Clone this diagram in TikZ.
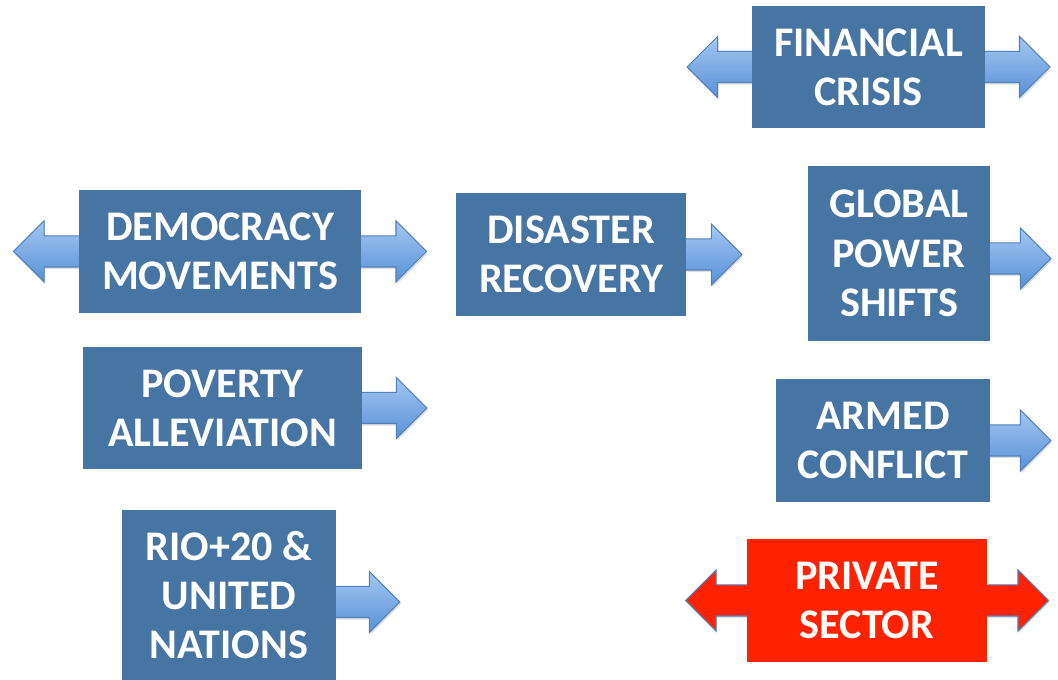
\documentclass[tikz,border=0pt]{standalone}
\usepackage{fontspec}
\setmainfont{Carlito}
\usepackage{xcolor}
\usepackage{tikz}
\usetikzlibrary{positioning}
\usetikzlibrary{shapes.arrows}
\usetikzlibrary{backgrounds}
\usetikzlibrary{shadows}
\definecolor{boxblue}{RGB}{70,116,163}
\definecolor{boxred}{RGB}{255,34,0}
\definecolor{arrowtop}{RGB}{164,198,243}
\definecolor{arrowbottom}{RGB}{88,145,214}
\definecolor{arrowline}{RGB}{79,129,189}
\tikzset{
  mybox/.style={
    fill=boxblue,
    shape=rectangle,
    align=center,
    text=white,
    inner sep=0pt,
    font=\fontsize{24}{28}\selectfont\bfseries
  },
  myredbox/.style={
    mybox,
    fill=boxred
  },
  myarrow/.style={
    draw=arrowline,
    line width=0.6pt,
    single arrow,
    single arrow head extend=0.3cm,
    single arrow tip angle=90,
    inner xsep=0pt,
    inner ysep=0.3cm,
    top color=arrowtop,
    bottom color=arrowbottom,
    drop shadow={opacity=0.25, shadow xshift=0.6pt, shadow yshift=-1.2pt}
  },
  mydoublearrow/.style={
    draw=arrowline,
    line width=0.6pt,
    double arrow,
    double arrow head extend=0.3cm,
    double arrow tip angle=90,
    inner xsep=0pt,
    inner ysep=0.3cm,
    top color=arrowtop,
    bottom color=arrowbottom,
    drop shadow={opacity=0.25, shadow xshift=0.6pt, shadow yshift=-1.2pt}
  }
}

\begin{document}
\begin{tikzpicture}
    \useasboundingbox (0, 0) rectangle (21.16, 13.6);

    \node [mybox, minimum width=4.66cm, minimum height=2.44cm] (FC) at (17.37, 12.26) {FINANCIAL\\CRISIS};
    \node [mybox, minimum width=5.64cm, minimum height=2.46cm] (DM) at (4.40, 8.57) {DEMOCRACY\\MOVEMENTS};
    \node [mybox, minimum width=4.60cm, minimum height=2.46cm] (DR) at (11.42, 8.51) {DISASTER\\RECOVERY};
    \node [mybox, minimum width=3.64cm, minimum height=3.50cm] (GP) at (17.98, 8.53) {GLOBAL\\POWER\\SHIFTS};
    \node [mybox, minimum width=5.58cm, minimum height=2.44cm] (PA) at (4.45, 5.44) {POVERTY\\ALLEVIATION};
    \node [mybox, minimum width=4.28cm, minimum height=2.46cm] (AC) at (17.66, 4.79) {ARMED\\CONFLICT};
    \node [mybox, minimum width=4.28cm, minimum height=3.40cm] (RIO) at (4.58, 1.70) {RIO+20 \&\\UNITED\\NATIONS};
    \node [myredbox, minimum width=4.80cm, minimum height=2.46cm] (PS) at (17.34, 1.59) {PRIVATE\\SECTOR};

    \begin{scope}[on background layer]
    \node [mydoublearrow, minimum height=7.26cm] (FCarrows) at (FC) {};
    \node [mydoublearrow, minimum height=8.26cm] (DMarrows) at (DM) {};
    \node [mydoublearrow, minimum height=7.26cm, top color=boxred, bottom color=boxred] (PSarrows) at (PS) {};

    \node [myarrow, minimum height=1.16cm, right=-0.06cm of DR] (DRarrow) {};
    \node [myarrow, minimum height=1.26cm, right=-0.06cm of GP, yshift=-0.1cm] (GParrow) {};
    \node [myarrow, minimum height=1.34cm, right=-0.06cm of PA] (PAarrow) {};
    \node [myarrow, minimum height=1.26cm, right=-0.06cm of AC] (ACarrow) {};
    \node [myarrow, minimum height=1.32cm, right=-0.06cm of RIO, yshift=-0.14cm] (RIOarrow) {};
    \end{scope}

\end{tikzpicture}
\end{document}
